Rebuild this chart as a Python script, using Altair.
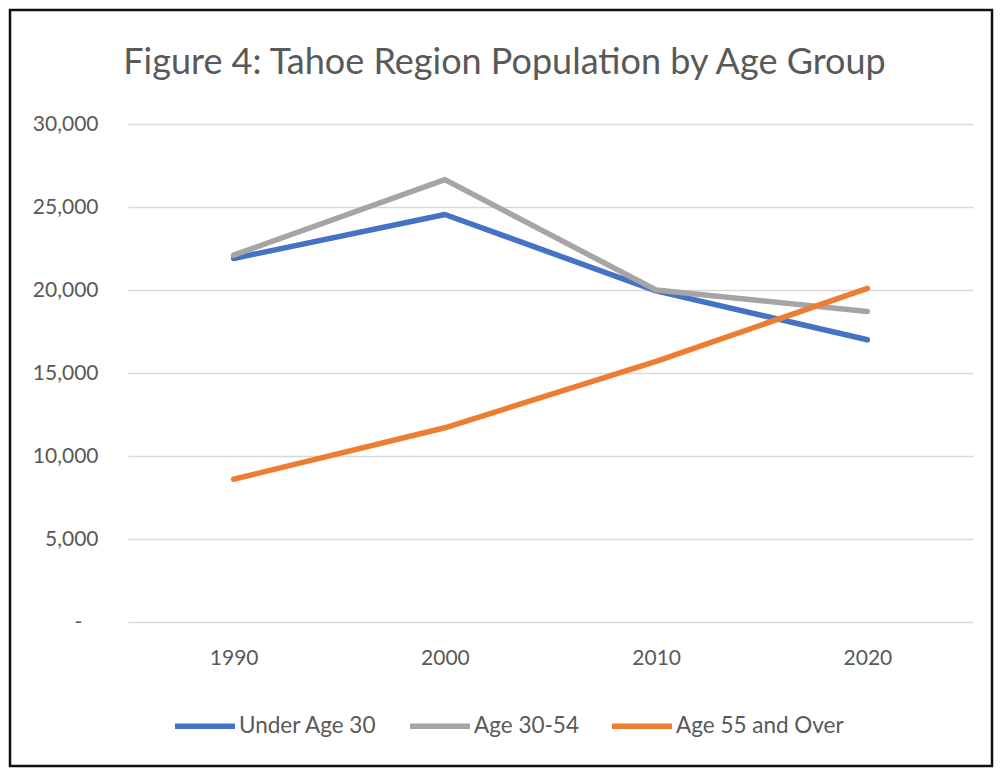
import altair as alt
import pandas as pd

years = ["1990", "2000", "2010", "2020"]
series_names = ["Under Age 30", "Age 30-54", "Age 55 and Over"]
under_30 = [21900, 24550, 19950, 17000]
age_30_54 = [22100, 26650, 20000, 18700]
age_55_over = [8600, 11700, 15700, 20100]
y_ticks = [0, 5000, 10000, 15000, 20000, 25000, 30000]
colors = ["#4472C4", "#A5A5A5", "#ED7D31"]

rows = []
for name, vals in zip(series_names, [under_30, age_30_54, age_55_over]):
    for yr, v in zip(years, vals):
        rows.append({"Year": yr, "Group": name, "Population": v})
df = pd.DataFrame(rows)

FONT = "Lato, sans-serif"
GREY = "#595959"

lines = alt.Chart(df).mark_line(strokeWidth=5.5, strokeCap="round", strokeJoin="round").encode(
    x=alt.X("Year:O", sort=years, scale=alt.Scale(type="point", padding=0.5),
            axis=alt.Axis(title=None, labelAngle=0, labelPadding=25, labelFontSize=21,
                          domain=False, ticks=False, grid=False)),
    y=alt.Y("Population:Q", scale=alt.Scale(domain=[0, 30000], nice=False),
            axis=alt.Axis(title=None, values=y_ticks, labelPadding=30, labelFontSize=21,
                          labelExpr="datum.value == 0 ? '-\u00a0\u00a0\u00a0\u200b' : format(datum.value, ',')",
                          domain=False, ticks=False, grid=True)),
    color=alt.Color("Group:N", sort=series_names,
                    scale=alt.Scale(domain=series_names, range=colors),
                    legend=alt.Legend(title=None, orient="none", direction="horizontal",
                                      legendX=44, legendY=569,
                                      symbolType="stroke", symbolSize=3600, symbolStrokeWidth=5.5,
                                      labelFontSize=22.5, labelOffset=1, columnPadding=22,
                                      labelLimit=0,
                                      labelColor=GREY, labelFont=FONT)),
    order=alt.Order("Year:O"),
)

frame_df = pd.DataFrame({"k": [0]})
frame = alt.Chart(frame_df).mark_rect(fill=None, stroke="#111111", strokeWidth=2.5).encode(
    x=alt.value(-118), x2=alt.value(864), y=alt.value(-114), y2=alt.value(642)
)

chart = alt.layer(lines, frame).properties(
    width=845, height=498,
    autosize=alt.AutoSizeParams(type="none"),
    padding={"left": 120, "top": 116, "right": 22, "bottom": 147},
    title=alt.TitleParams("Figure 4: Tahoe Region Population by Age Group",
                          anchor="middle", frame="group", dx=-46, fontSize=36, font=FONT,
                          fontWeight="normal", color=GREY, baseline="alphabetic", offset=-101),
).configure_view(stroke=None).configure_axis(
    labelFont=FONT, labelColor=GREY, gridColor="#D9D9D9", gridWidth=1.5
)

chart.save("out.html", embed_options={"renderer": "svg", "actions": False})
